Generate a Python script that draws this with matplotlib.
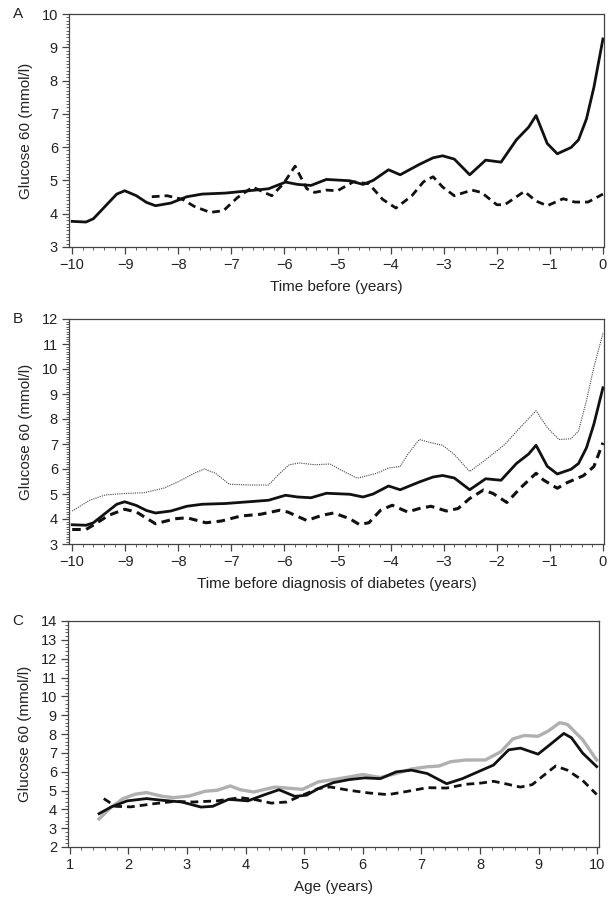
import matplotlib
matplotlib.use("Agg")
import matplotlib.pyplot as plt
from matplotlib.ticker import MultipleLocator

plt.rcParams['font.family'] = ['Liberation Sans', 'DejaVu Sans']

# ---------------- Panel A ----------------
a_solid_x = [-10, -9.74, -9.6, -9.38, -9.16, -9.01, -8.79, -8.6, -8.43, -8.14, -7.84, -7.55, -7.11,
             -6.67, -6.3, -5.98, -5.75, -5.5, -5.21, -4.77, -4.52, -4.33, -4.04, -3.82, -3.46, -3.2,
             -3.02, -2.8, -2.51, -2.21, -1.92, -1.63, -1.4, -1.26, -1.05, -0.86, -0.6, -0.46, -0.31,
             -0.17, 0]
a_solid_y = [3.77, 3.75, 3.85, 4.22, 4.59, 4.69, 4.54, 4.34, 4.24, 4.32, 4.51, 4.59, 4.62,
             4.69, 4.75, 4.95, 4.88, 4.85, 5.03, 4.99, 4.88, 5.0, 5.32, 5.17, 5.48, 5.68,
             5.74, 5.64, 5.17, 5.61, 5.55, 6.22, 6.6, 6.95, 6.11, 5.80, 5.99, 6.22, 6.85,
             7.8, 9.25]
a_dash_x = [-8.5, -8.21, -7.92, -7.7, -7.4, -7.15, -6.89, -6.6, -6.38, -6.24, -6.02, -5.8,
            -5.58, -5.43, -5.21, -5.0, -4.7, -4.41, -4.15, -3.9, -3.6, -3.38, -3.2, -3.02,
            -2.8, -2.47, -2.29, -2.0, -1.85, -1.48, -1.26, -1.05, -0.75, -0.53, -0.28, 0]
a_dash_y = [4.51, 4.54, 4.43, 4.22, 4.04, 4.09, 4.48, 4.8, 4.64, 4.54, 4.9, 5.43,
            4.75, 4.64, 4.71, 4.69, 4.96, 4.9, 4.43, 4.17, 4.54, 4.96, 5.11, 4.8,
            4.54, 4.71, 4.64, 4.27, 4.27, 4.67, 4.38, 4.24, 4.45, 4.35, 4.35, 4.59]

# ---------------- Panel B ----------------
b_solid_x = a_solid_x
b_solid_y = a_solid_y
b_dot_x = [-10, -9.67, -9.38, -9.01, -8.65, -8.28, -7.99, -7.7, -7.51, -7.3, -7.04, -6.67,
           -6.3, -6.09, -5.91, -5.72, -5.43, -5.14, -4.92, -4.63, -4.26, -4.04, -3.82, -3.68,
           -3.46, -3.24, -3.02, -2.8, -2.51, -2.21, -1.85, -1.56, -1.26, -1.05, -0.83, -0.6,
           -0.46, -0.31, -0.17, 0]
b_dot_y = [4.32, 4.75, 4.96, 5.02, 5.05, 5.23, 5.5, 5.83, 6.0, 5.83, 5.39, 5.36,
           5.36, 5.83, 6.17, 6.24, 6.17, 6.2, 5.94, 5.63, 5.83, 6.04, 6.1, 6.58,
           7.18, 7.05, 6.95, 6.58, 5.9, 6.37, 6.98, 7.66, 8.33, 7.66, 7.18, 7.21,
           7.52, 8.74, 10.08, 11.43]
b_dash_x = [-10, -9.74, -9.56, -9.31, -9.01, -8.79, -8.43, -8.06, -7.84, -7.48, -7.19, -6.82,
            -6.45, -6.09, -5.94, -5.58, -5.29, -5.07, -4.77, -4.59, -4.41, -4.19, -3.97, -3.68,
            -3.46, -3.24, -2.95, -2.73, -2.51, -2.25, -2.07, -1.81, -1.56, -1.26, -1.12, -0.86,
            -0.67, -0.37, -0.17, 0]
b_dash_y = [3.58, 3.58, 3.81, 4.15, 4.39, 4.28, 3.81, 4.01, 4.05, 3.85, 3.92, 4.12,
            4.19, 4.35, 4.28, 3.94, 4.15, 4.24, 4.01, 3.78, 3.85, 4.35, 4.55, 4.28,
            4.42, 4.51, 4.32, 4.42, 4.82, 5.16, 5.02, 4.66, 5.23, 5.83, 5.56, 5.23,
            5.46, 5.73, 6.1, 7.05]

# ---------------- Panel C ----------------
c_gray_x = [1.5, 1.71, 1.91, 2.11, 2.31, 2.58, 2.78, 3.04, 3.31, 3.51, 3.74, 3.91, 4.14, 4.3,
            4.5, 4.7, 4.97, 5.24, 5.5, 5.77, 6.0, 6.3, 6.57, 6.83, 7.1, 7.3, 7.5, 7.76, 8.09,
            8.36, 8.56, 8.76, 8.99, 9.16, 9.36, 9.49, 9.75, 9.99]
c_gray_y = [3.49, 4.12, 4.57, 4.8, 4.89, 4.69, 4.62, 4.71, 4.96, 5.01, 5.24, 5.04, 4.92, 5.04,
            5.18, 5.13, 5.06, 5.46, 5.58, 5.72, 5.85, 5.69, 5.9, 6.14, 6.26, 6.3, 6.53, 6.62, 6.62,
            7.07, 7.74, 7.92, 7.88, 8.15, 8.6, 8.51, 7.7, 6.62]
c_solid_x = [1.5, 1.71, 1.98, 2.31, 2.58, 2.91, 3.24, 3.44, 3.71, 4.04, 4.3, 4.57, 4.84, 5.04,
             5.24, 5.5, 5.77, 6.03, 6.3, 6.57, 6.83, 7.1, 7.43, 7.7, 8.03, 8.23, 8.49, 8.69,
             8.99, 9.16, 9.43, 9.56, 9.75, 9.99]
c_solid_y = [3.77, 4.13, 4.45, 4.57, 4.48, 4.39, 4.12, 4.16, 4.53, 4.45, 4.75, 5.04, 4.69, 4.75,
             5.1, 5.42, 5.58, 5.67, 5.63, 5.99, 6.08, 5.9, 5.36, 5.63, 6.08, 6.35, 7.16, 7.25,
             6.93, 7.35, 8.03, 7.8, 6.99, 6.27]
c_dash_x = [1.58, 1.78, 2.04, 2.44, 2.78, 3.11, 3.51, 3.91, 4.17, 4.44, 4.7, 4.97, 5.24, 5.44,
            5.77, 6.1, 6.43, 6.77, 7.1, 7.43, 7.76, 8.03, 8.23, 8.43, 8.69, 8.89, 9.09, 9.29,
            9.49, 9.75, 9.99]
c_dash_y = [4.57, 4.16, 4.13, 4.3, 4.42, 4.39, 4.45, 4.62, 4.51, 4.33, 4.39, 4.75, 5.1, 5.19,
            5.01, 4.87, 4.78, 4.96, 5.15, 5.13, 5.33, 5.4, 5.49, 5.36, 5.18, 5.31, 5.81, 6.3,
            6.08, 5.54, 4.79]

a_xticks = list(range(-10, 1))
a_xticklabels = ['\u221210', '\u22129', '\u22128', '\u22127', '\u22126', '\u22125', '\u22124',
                 '\u22123', '\u22122', '\u22121', '0']
c_xticks = list(range(1, 11))

W, H = 609, 901
fig = plt.figure(figsize=(W / 100, H / 100), dpi=100)

def rect(l, t, r, b):
    return [l / W, 1 - b / H, (r - l) / W, (b - t) / H]

axA = fig.add_axes(rect(69, 14, 604, 247))
axB = fig.add_axes(rect(69, 319, 604, 544))
axC = fig.add_axes(rect(68, 621, 599, 847))

spine_c = '#444444'
TFS = 10.5
LFS = 11

def style(ax, ylo, yhi, yminor, xlo, xhi, xticks, xlabels, xlabel):
    ax.set_ylim(ylo, yhi)
    ax.set_xlim(xlo, xhi)
    ax.set_yticks(list(range(ylo, yhi + 1)))
    ax.yaxis.set_minor_locator(MultipleLocator(yminor))
    ax.set_xticks(xticks)
    ax.set_xticklabels(xlabels)
    ax.xaxis.set_minor_locator(MultipleLocator(0.2))
    for s in ax.spines.values():
        s.set_color(spine_c)
        s.set_linewidth(0.9)
    ax.tick_params(which='major', direction='out', length=5, width=0.9, color=spine_c,
                   labelsize=TFS, labelcolor='#222222', pad=3)
    ax.tick_params(which='minor', direction='out', length=2.5, width=0.6, color=spine_c)
    ax.set_ylabel('Glucose 60 (mmol/l)', fontsize=LFS, color='#222222', labelpad=6)
    ax.set_xlabel(xlabel, fontsize=LFS, color='#222222', labelpad=6)

style(axA, 3, 10, 0.1, -10.06, 0.02, a_xticks, a_xticklabels, 'Time before (years)')
style(axB, 3, 12, 0.1, -10.06, 0.02, a_xticks, a_xticklabels,
      'Time before diagnosis of diabetes (years)')
style(axC, 2, 14, 0.2, 0.97, 10.03, c_xticks, [str(v) for v in c_xticks], 'Age (years)')

dash = (0, (2.8, 1.8))
axA.plot(a_solid_x, a_solid_y, color='#111111', lw=2.0, solid_joinstyle='round')
axA.plot(a_dash_x, a_dash_y, color='#111111', lw=2.0, linestyle=dash)

axB.plot(b_dot_x, b_dot_y, color='#444444', lw=0.8, linestyle=(0, (1, 1)))
axB.plot(b_solid_x, b_solid_y, color='#111111', lw=2.0, solid_joinstyle='round')
axB.plot(b_dash_x, b_dash_y, color='#111111', lw=2.2, linestyle=dash)

axC.plot(c_gray_x, c_gray_y, color='#b0b0b0', lw=2.4, solid_joinstyle='round')
axC.plot(c_solid_x, c_solid_y, color='#111111', lw=2.0, solid_joinstyle='round')
axC.plot(c_dash_x, c_dash_y, color='#111111', lw=2.0, linestyle=dash)

for ax, lab in ((axA, 'A'), (axB, 'B'), (axC, 'C')):
    pos = ax.get_position()
    fig.text(18 / W, pos.y1, lab, fontsize=LFS, ha='center', va='center', color='#222222')

fig.savefig('out.png', dpi=100)
